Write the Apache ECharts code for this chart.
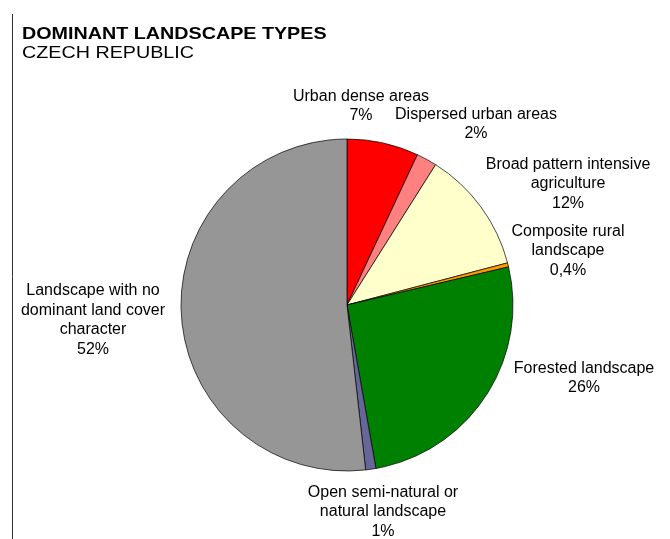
<!DOCTYPE html>
<html>
<head>
<meta charset="utf-8">
<script src="https://cdn.jsdelivr.net/npm/echarts@6/dist/echarts.min.js"></script>
<style>
  html, body { margin: 0; padding: 0; background: #ffffff; }
  #chart { width: 670px; height: 539px; }
</style>
</head>
<body>
<div id="chart"></div>
<script>
// Landscape type categories (clockwise from 12 o'clock)
const categories = [
  'Urban dense areas',
  'Dispersed urban areas',
  'Broad pattern intensive\nagriculture',
  'Composite rural\nlandscape',
  'Forested landscape',
  'Open semi-natural or\nnatural landscape',
  'Landscape with no\ndominant land cover\ncharacter'
];
// Share of national territory, percent
const shares = [7, 2, 12, 0.4, 26, 1, 52];
// Slice fill colours
const sliceColors = ['#ff0000', '#ff8080', '#ffffcc', '#ff9900', '#008000', '#666699', '#969696'];

// Label block centres (px), one per slice
const labelCenters = [
  [361, 106], [476, 124], [568, 184], [568, 251],
  [584, 378], [383, 512], [93, 320]
];

const chart = echarts.init(document.getElementById('chart'), null, { renderer: 'canvas' });

chart.setOption({
  animation: false,
  backgroundColor: '#ffffff',
  graphic: [
    { type: 'line', shape: { x1: 12.5, y1: 14, x2: 12.5, y2: 539 },
      style: { stroke: '#333333', lineWidth: 1 } },
    { type: 'text', x: 22, y: 26, scaleX: 1.16,
      style: { text: 'DOMINANT LANDSCAPE TYPES', fill: '#000', verticalAlign: 'top',
               font: 'bold 17px "Liberation Sans", Arial, sans-serif' } },
    { type: 'text', x: 22, y: 45, scaleX: 1.16,
      style: { text: 'CZECH REPUBLIC', fill: '#000', verticalAlign: 'top',
               font: '17px "Liberation Sans", Arial, sans-serif' } }
  ],
  series: [{
    type: 'pie',
    center: [347, 305],
    radius: 166,
    startAngle: 90,
    clockwise: true,
    avoidLabelOverlap: false,
    data: categories.map((name, i) => ({
      name: name,
      value: shares[i],
      itemStyle: { color: sliceColors[i] }
    })),
    itemStyle: { borderColor: '#000000', borderWidth: 0.7 },
    label: {
      show: true,
      position: 'outside',
      formatter: p => p.name + '\n' + String(p.value).replace('.', ',') + '%',
      fontFamily: '"Liberation Sans", Arial, sans-serif',
      fontSize: 16,
      lineHeight: 19.5,
      color: '#000',
      align: 'center'
    },
    labelLine: { show: false },
    labelLayout: p => ({
      x: labelCenters[p.dataIndex][0],
      y: labelCenters[p.dataIndex][1],
      align: 'center',
      verticalAlign: 'middle'
    }),
    emphasis: { disabled: true }
  }]
});
</script>
</body>
</html>
